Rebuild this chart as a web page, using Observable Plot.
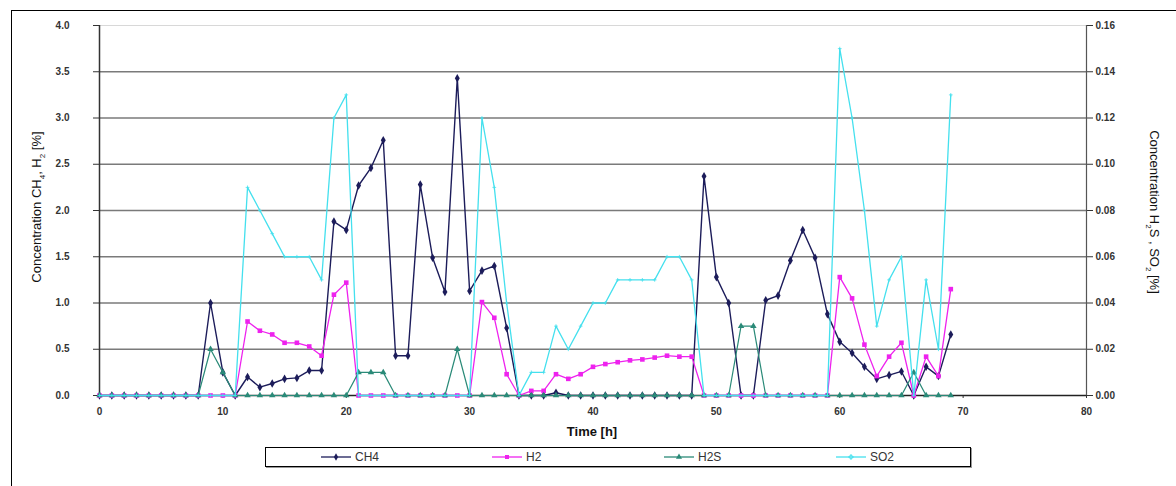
<!DOCTYPE html>
<html>
<head>
<meta charset="utf-8">
<script src="https://cdn.jsdelivr.net/npm/d3@7"></script>
<script src="https://cdn.jsdelivr.net/npm/@observablehq/plot@0.6"></script>
<style>
  html, body { margin: 0; padding: 0; background: #fff; }
  #wrap { position: relative; width: 1176px; height: 486px; overflow: hidden; background: #fff; font-family: "Liberation Sans", Arial, sans-serif; }
  #wrap svg.plot { position: absolute; left: 0; top: 0; }
  .frame { position: absolute; left: 11px; top: 10px; width: 1200px; height: 500px; border-left: 1.5px solid #000; border-top: 1.5px solid #000; pointer-events: none; }
  .ylab { position: absolute; white-space: nowrap; font-size: 13px; color: #111; transform-origin: center center; }
  .xlab { position: absolute; left: 592px; top: 424px; transform: translateX(-50%); font-weight: bold; font-size: 13px; color: #111; }
  .legend { position: absolute; left: 265px; top: 447px; width: 704px; height: 18px; border: 1px solid #000; box-shadow: 1px 1px 0 #999; background: #fff; }
  .legend .item { position: absolute; top: 0; height: 18px; display: flex; align-items: center; font-size: 12px; color: #333; }
  .legend svg { margin-right: 4px; }
</style>
</head>
<body>
<div id="wrap"></div>
<script>
// Time axis (hours)
const hours = d3.range(0, 70);

// CH4 concentration [%] (left axis)
const ch4 = [0,0,0,0,0,0,0,0,0,1.0,
             0.25,0,0.2,0.09,0.13,0.18,0.19,0.27,0.27,1.88,
             1.79,2.27,2.46,2.76,0.43,0.43,2.28,1.49,1.12,3.43,
             1.13,1.35,1.40,0.73,0,0,0,0.03,0,0,
             0,0,0,0,0,0,0,0,0,2.37,
             1.28,1.0,0,0,1.03,1.08,1.46,1.79,1.49,0.88,
             0.58,0.46,0.31,0.18,0.22,0.26,0,0.31,0.21,0.66];

// H2 concentration [%] (left axis)
const h2 = [0,0,0,0,0,0,0,0,0,0,
            0,0,0.80,0.70,0.66,0.57,0.57,0.53,0.43,1.09,
            1.22,0,0,0,0,0,0,0,0,0,
            0,1.01,0.84,0.23,0,0.05,0.05,0.23,0.18,0.23,
            0.31,0.34,0.36,0.38,0.39,0.41,0.43,0.42,0.42,0,
            0,0,0,0,0,0,0,0,0,0,
            1.28,1.05,0.55,0.21,0.42,0.57,0,0.42,0.21,1.15];

// H2S concentration [%] (right axis)
const h2s = [0,0,0,0,0,0,0,0,0,0.02,
             0.01,0,0,0,0,0,0,0,0,0,
             0,0.01,0.01,0.01,0,0,0,0,0,0.02,
             0,0,0,0,0,0,0,0,0,0,
             0,0,0,0,0,0,0,0,0,0,
             0,0,0.03,0.03,0,0,0,0,0,0,
             0,0,0,0,0,0,0.01,0,0,0];

// SO2 concentration [%] (right axis)
const so2 = [0,0,0,0,0,0,0,0,0,0,
             0,0,0.09,0.08,0.07,0.06,0.06,0.06,0.05,0.12,
             0.13,0,0,0,0,0,0,0,0,0,
             0,0.12,0.09,0.04,0,0.01,0.01,0.03,0.02,0.03,
             0.04,0.04,0.05,0.05,0.05,0.05,0.06,0.06,0.05,0,
             0,0,0,0,0,0,0,0,0,0,
             0.15,0.12,0.08,0.03,0.05,0.06,0,0.05,0.02,0.13];

const xTicks = [0,10,20,30,40,50,60,70,80];
const leftTicks = [0,0.5,1.0,1.5,2.0,2.5,3.0,3.5,4.0];
const rightTicks = [0,0.02,0.04,0.06,0.08,0.10,0.12,0.14,0.16];
const seriesNames = ["CH4","H2","H2S","SO2"];
const seriesColors = ["#1c1c5a","#ee22ee","#2a8a78","#44e0ee"];

const ratio = 4.0 / 0.16; // right-axis value -> left-axis units

const rows = hours.map((h, i) => ({h, ch4: ch4[i], h2: h2[i], h2s: h2s[i] * ratio, so2: so2[i] * ratio}));

const plot = Plot.plot({
  width: 1176,
  height: 486,
  marginLeft: 99,
  marginRight: 90,
  marginTop: 25,
  marginBottom: 91,
  x: {domain: [0, 80]},
  y: {domain: [0, 4]},
  style: {fontFamily: "'Liberation Sans', Arial, sans-serif", fontSize: "10px", fontWeight: "bold", color: "#333", background: "transparent"},
  marks: [
    Plot.ruleY(leftTicks.filter(d => d > 0 && d < 4), {stroke: "#7a7a7a", strokeWidth: 1.6}),
    Plot.ruleY([4], {stroke: "#d8d8d8", strokeWidth: 1.2}),
    Plot.axisY(leftTicks, {anchor: "left", tickSize: 6, tickPadding: 24, tickFormat: d => d.toFixed(1), label: null}),
    Plot.axisY(rightTicks, {anchor: "right", y: d => d * ratio, text: d => d.toFixed(2), tickFormat: d => d.toFixed(2), tickSize: 6, tickPadding: 3, label: null}),
    Plot.axisX(xTicks, {anchor: "bottom", tickSize: 3, tickPadding: 9, label: null}),
    Plot.ruleX([0], {stroke: "#333", strokeWidth: 1.5}),
    Plot.ruleX([80], {stroke: "#555", strokeWidth: 1.2}),
    Plot.ruleY([0], {stroke: "#222", strokeWidth: 1.5}),
    Plot.line(rows, {x: "h", y: "ch4", stroke: seriesColors[0], strokeWidth: 1.4}),
    Plot.dot(rows, {x: "h", y: "ch4", symbol: "diamond", r: 2.6, fill: seriesColors[0]}),
    Plot.line(rows, {x: "h", y: "h2", stroke: seriesColors[1], strokeWidth: 1.3}),
    Plot.dot(rows, {x: "h", y: "h2", symbol: "square", r: 2.6, fill: seriesColors[1]}),
    Plot.line(rows, {x: "h", y: "h2s", stroke: seriesColors[2], strokeWidth: 1.2}),
    Plot.dot(rows, {x: "h", y: "h2s", symbol: "triangle", r: 2.4, fill: seriesColors[2]}),
    Plot.line(rows, {x: "h", y: "so2", stroke: seriesColors[3], strokeWidth: 1.3}),
    Plot.dot(rows, {x: "h", y: "so2", symbol: "plus", r: 1.3, stroke: seriesColors[3], strokeWidth: 0.8})
  ]
});
plot.classList.add("plot");

const wrap = document.getElementById("wrap");
wrap.appendChild(plot);

const frame = document.createElement("div");
frame.className = "frame";
wrap.appendChild(frame);

const yl = document.createElement("div");
yl.className = "ylab";
yl.innerHTML = "Concentration CH<sub style='font-size:8px'>4</sub>, H<sub style='font-size:8px'>2</sub> [%]";
yl.style.left = "38px"; yl.style.top = "207px";
yl.style.transform = "translate(-50%,-50%) rotate(-90deg)";
wrap.appendChild(yl);

const yr = document.createElement("div");
yr.className = "ylab";
yr.innerHTML = "Concentration H<sub style='font-size:8px'>2</sub>S , SO<sub style='font-size:8px'>2</sub> [%]";
yr.style.left = "1153px"; yr.style.top = "212px";
yr.style.transform = "translate(-50%,-50%) rotate(90deg)";
wrap.appendChild(yr);

const xl = document.createElement("div");
xl.className = "xlab";
xl.textContent = "Time [h]";
wrap.appendChild(xl);

const legend = document.createElement("div");
legend.className = "legend";
const symbols = ["diamond","square","triangle","plus"];
const legendX = [55, 226, 398, 570];
seriesNames.forEach((name, i) => {
  const item = document.createElement("div");
  item.className = "item";
  item.style.left = legendX[i] + "px";
  const sw = d3.create("svg").attr("width", 30).attr("height", 10);
  sw.append("line").attr("x1", 0).attr("x2", 30).attr("y1", 5).attr("y2", 5).attr("stroke", seriesColors[i]).attr("stroke-width", 1.3);
  const d3sym = {diamond: d3.symbolDiamond, square: d3.symbolSquare, triangle: d3.symbolTriangle, plus: d3.symbolCross}[symbols[i]];
  sw.append("path").attr("transform", "translate(15,5)").attr("d", d3.symbol(d3sym, symbols[i] === "plus" ? 10 : 16)())
    .attr("fill", symbols[i] === "plus" ? "none" : seriesColors[i]).attr("stroke", symbols[i] === "plus" ? seriesColors[i] : "none");
  item.appendChild(sw.node());
  const t = document.createElement("span");
  t.textContent = name;
  item.appendChild(t);
  legend.appendChild(item);
});
wrap.appendChild(legend);
</script>
</body>
</html>
